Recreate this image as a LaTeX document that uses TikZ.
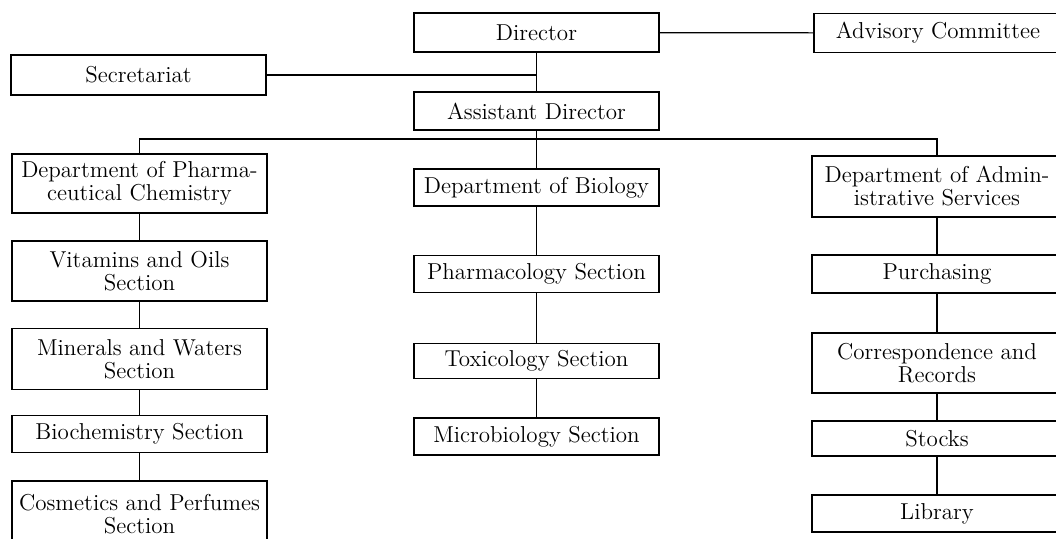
\documentclass[tikz,border=0pt]{standalone}
\usepackage{tikz}
\usetikzlibrary{positioning}

\begin{document}
\begin{tikzpicture}[x=0.5pt, y=-0.5pt, line width=0.6pt,
	box/.style 2 args={draw, align=center, inner sep=1pt,
		minimum width=#1*0.5pt, minimum height=#2*0.5pt,
		font=\fontsize{11.5}{11.5}\selectfont}]

\useasboundingbox (0,0) rectangle (1056,538);

% top level
\node[box={245}{39}] (dir) at (536.5, 32.5) {Director};
\node[box={248}{39}] (adv) at (938, 33) {Advisory Committee};
\node[box={255}{40}] (sec) at (138.5, 75) {Secretariat};
\node[box={245}{38}] (asst) at (536.5, 111) {Assistant Director};

% departments
\node[box={255}{59}] (pharm) at (139.5, 183.5) {Department of Pharma-\\ceutical Chemistry};
\node[box={245}{37}] (bio) at (536.5, 187.5) {Department of Biology};
\node[box={250}{61}] (admin) at (937, 186.5) {Department of Admin-\\istrative Services};

% sections, left
\node[box={255}{60}] (vit) at (139.5, 271) {Vitamins and Oils\\Section};
\node[box={255}{61}] (min) at (139.5, 359) {Minerals and Waters\\Section};
\node[box={255}{37}] (biochem) at (139.5, 434) {Biochemistry Section};
\node[box={255}{66}] (cosm) at (139.5, 514) {Cosmetics and Perfumes\\Section};

% sections, middle
\node[box={245}{37}] (pharmac) at (536.5, 274) {Pharmacology Section};
\node[box={245}{35}] (tox) at (536.5, 361) {Toxicology Section};
\node[box={245}{37}] (micro) at (536.5, 436.5) {Microbiology Section};

% sections, right
\node[box={250}{38}] (purch) at (937, 274) {Purchasing};
\node[box={250}{60}] (corr) at (937, 363) {Correspondence and\\Records};
\node[box={250}{35}] (stocks) at (937, 438.5) {Stocks};
\node[box={250}{37}] (lib) at (937, 513.5) {Library};

\coordinate (bus) at (536.5, 139);

\draw (dir) -- (adv);
\draw (dir) -- (asst);
\draw (sec.east) -- (sec.east -| dir.south);
\draw (asst) -- (bio);
\draw (pharm.north) |- (bus) -| (admin.north);

\foreach \a/\b in {pharm/vit, vit/min, min/biochem, biochem/cosm,
	bio/pharmac, pharmac/tox, tox/micro,
	admin/purch, purch/corr, corr/stocks, stocks/lib} {
	\draw (\a) -- (\b);
}

\end{tikzpicture}
\end{document}
